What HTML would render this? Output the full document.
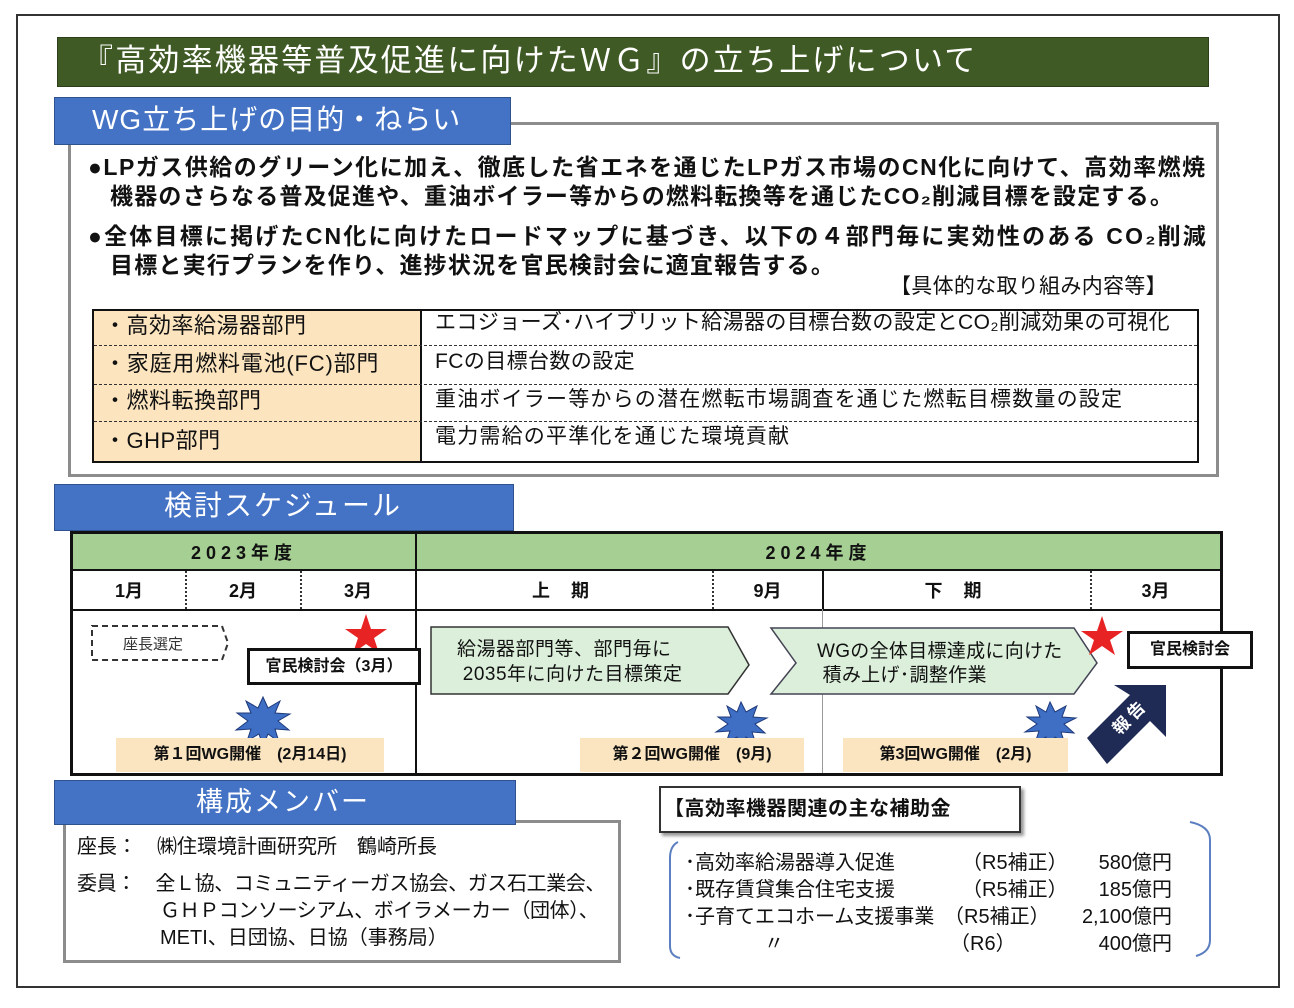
<!DOCTYPE html>
<html><head><meta charset="utf-8">
<style>
*{margin:0;padding:0;box-sizing:border-box}
body{width:1294px;height:1008px;background:#fff;position:relative;overflow:hidden;font-family:"Liberation Sans","Noto Sans CJK JP",sans-serif;color:#111}
.a{position:absolute;white-space:nowrap}
.b{font-weight:bold}
.tab{position:absolute;background:#4472c4;border:1px solid #2f528f;color:#fff}
.cell{position:absolute;display:flex;align-items:center;justify-content:center;font-weight:bold;font-size:18px}
</style></head><body>
<div class="a" style="left:16px;top:14px;width:1264px;height:974px;border:2px solid #333"></div>

<!-- title -->
<div class="a" style="left:57px;top:37px;width:1152px;height:50px;background:#3f5a25;border:1px solid #2c3f1a"></div>
<div class="a" style="left:82px;top:38px;font-size:31px;color:#fff;line-height:46px;letter-spacing:2.2px">『高効率機器等普及促進に向けたＷＧ』の立ち上げについて</div>

<!-- purpose -->
<div class="a" style="left:68px;top:122px;width:1151px;height:355px;border:3px solid #8c8c8c"></div>
<div class="tab" style="left:54px;top:97px;width:457px;height:48px"></div>
<div class="a" style="left:92px;top:99px;font-size:28px;color:#fff;line-height:42px;letter-spacing:1px">WG立ち上げの目的・ねらい</div>

<div class="a b" style="left:88px;top:153px;font-size:23px;line-height:29px;letter-spacing:1.5px">●LPガス供給のグリーン化に加え、徹底した省エネを通じたLPガス市場のCN化に向けて、高効率燃焼</div>
<div class="a b" style="left:110px;top:182px;font-size:23px;line-height:29px;letter-spacing:1.2px">機器のさらなる普及促進や、重油ボイラー等からの燃料転換等を通じたCO₂削減目標を設定する。</div>
<div class="a b" style="left:88px;top:222px;font-size:23px;line-height:29px;letter-spacing:2.2px">●全体目標に掲げたCN化に向けたロードマップに基づき、以下の４部門毎に実効性のある CO₂削減</div>
<div class="a b" style="left:110px;top:251px;font-size:23px;line-height:29px;letter-spacing:1.2px">目標と実行プランを作り、進捗状況を官民検討会に適宜報告する。</div>
<div class="a" style="left:890px;top:273px;font-size:21px;line-height:28px;letter-spacing:0.3px">【具体的な取り組み内容等】</div>

<div class="a" style="left:92px;top:309px;width:1107px;height:154px;border:2px solid #111"></div>
<div class="a" style="left:94px;top:311px;width:328px;height:150px;background:#fce4bf;border-right:2px solid #111"></div>
<div class="a" style="left:94px;top:345px;width:1103px;border-top:1px dashed #333"></div>
<div class="a" style="left:94px;top:384px;width:1103px;border-top:1px dashed #333"></div>
<div class="a" style="left:94px;top:421px;width:1103px;border-top:1px dashed #333"></div>
<div class="a" style="left:104px;top:309px;font-size:22px;line-height:34px;letter-spacing:0.5px">・高効率給湯器部門</div>
<div class="a" style="left:104px;top:345px;font-size:22px;line-height:38px;letter-spacing:0.8px">・家庭用燃料電池(FC)部門</div>
<div class="a" style="left:104px;top:383px;font-size:22px;line-height:36px;letter-spacing:0.5px">・燃料転換部門</div>
<div class="a" style="left:104px;top:421px;font-size:22px;line-height:40px;letter-spacing:0.5px">・GHP部門</div>
<div class="a" style="left:435px;top:308px;font-size:21px;line-height:30px;letter-spacing:0.4px">エコジョーズ･ハイブリット給湯器の目標台数の設定とCO₂削減効果の可視化</div>
<div class="a" style="left:435px;top:346px;font-size:21px;line-height:32px;letter-spacing:0.4px">FCの目標台数の設定</div>
<div class="a" style="left:435px;top:385px;font-size:21px;line-height:30px;letter-spacing:1.2px">重油ボイラー等からの潜在燃転市場調査を通じた燃転目標数量の設定</div>
<div class="a" style="left:435px;top:422px;font-size:21px;line-height:30px;letter-spacing:1.2px">電力需給の平準化を通じた環境貢献</div>

<!-- schedule -->
<div class="tab" style="left:54px;top:484px;width:460px;height:47px"></div>
<div class="a" style="left:164px;top:485px;font-size:28px;color:#fff;line-height:42px;letter-spacing:2px">検討スケジュール</div>

<div class="a" style="left:70px;top:531px;width:1153px;height:245px;border:3px solid #111"></div>
<div class="a" style="left:73px;top:534px;width:1147px;height:37px;background:#a6cf93;border-bottom:2px solid #111"></div>
<div class="a" style="left:73px;top:609px;width:1147px;border-top:2px solid #111"></div>
<div class="a" style="left:415px;top:534px;height:239px;border-left:2px solid #111"></div>
<div class="a" style="left:822px;top:571px;height:38px;border-left:2px solid #111"></div>
<div class="a" style="left:822px;top:609px;height:164px;border-left:1px solid #999"></div>
<div class="a" style="left:185px;top:571px;height:38px;border-left:2px dotted #333"></div>
<div class="a" style="left:300px;top:571px;height:38px;border-left:2px dotted #333"></div>
<div class="a" style="left:712px;top:571px;height:38px;border-left:2px dotted #333"></div>
<div class="a" style="left:1090px;top:571px;height:38px;border-left:2px dotted #333"></div>

<div class="cell" style="left:73px;top:534px;width:342px;height:36px;letter-spacing:5px">2023年度</div>
<div class="cell" style="left:417px;top:534px;width:803px;height:36px;letter-spacing:5px">2024年度</div>
<div class="cell" style="left:73px;top:571px;width:112px;height:38px">1月</div>
<div class="cell" style="left:186px;top:571px;width:114px;height:38px">2月</div>
<div class="cell" style="left:301px;top:571px;width:114px;height:38px">3月</div>
<div class="cell" style="left:417px;top:571px;width:295px;height:38px;letter-spacing:8px">上 期</div>
<div class="cell" style="left:713px;top:571px;width:109px;height:38px">9月</div>
<div class="cell" style="left:824px;top:571px;width:266px;height:38px;letter-spacing:8px">下 期</div>
<div class="cell" style="left:1091px;top:571px;width:129px;height:38px">3月</div>

<svg class="a" style="left:0;top:0" width="1294" height="1008">
  <path d="M92,626 H222 L228,643 L222,660 H92 Z" fill="none" stroke="#333" stroke-width="2" stroke-dasharray="6,4"/>
  <path d="M431,627 H728 L749,665 L728,694 H431 Z" fill="#dbefda" stroke="#333" stroke-width="1.5"/>
  <path d="M771,628 H1074 L1097,663 L1074,694 H771 L796,663 Z" fill="#dbefda" stroke="#445" stroke-width="1.5"/>
  <polygon points="366,614 371,629 387,629 374,638 379,653 366,644 353,653 358,638 345,629 361,629" fill="#e82323"/>
  <polygon points="1102,616 1107,631 1123,631 1110,640 1115,655 1102,646 1089,655 1094,640 1081,631 1097,631" fill="#e82323"/>
  <g fill="#3e6fc4" stroke="#1f3a7a" stroke-width="1">
    <polygon points="263,697 268,708 280,701 275,713 290,714 278,721 289,730 275,729 279,742 268,734 263,746 259,734 247,741 251,729 236,730 248,721 237,713 251,713 246,701 258,708"/>
    <polygon points="741,702 746,712 757,706 753,717 767,718 755,724 765,733 752,732 756,744 746,737 741,748 737,737 726,743 730,731 716,732 728,724 718,717 731,717 727,706 737,712"/>
    <polygon points="1050,702 1055,712 1066,706 1062,717 1076,718 1064,724 1074,733 1061,732 1065,744 1055,737 1050,748 1046,737 1035,743 1039,731 1025,732 1037,724 1027,717 1040,717 1036,706 1046,712"/>
  </g>
  <polygon points="1087,738 1130,695 1114,685 1166,685 1166,737 1150,721 1107,764" fill="#1f2a55"/>
</svg>
<div class="a" style="left:123px;top:633px;font-size:15px;color:#333">座長選定</div>
<div class="a b" style="left:247px;top:648px;width:174px;height:37px;border:3px solid #111;background:#fff;font-size:16px;line-height:31px;text-align:center">官民検討会（3月）</div>
<div class="a" style="left:457px;top:637px;font-size:19px;line-height:25px;letter-spacing:0.5px">給湯器部門等、部門毎に<br>&nbsp;2035年に向けた目標策定</div>
<div class="a" style="left:817px;top:640px;font-size:19px;line-height:24px;letter-spacing:0.3px">WGの全体目標達成に向けた<br>&nbsp;積み上げ･調整作業</div>
<div class="a b" style="left:1127px;top:631px;width:126px;height:38px;border:3px solid #111;background:#fff;font-size:16px;line-height:32px;text-align:center">官民検討会</div>
<div class="a b" style="left:1108px;top:703px;font-size:17px;color:#fff;transform:rotate(-45deg);letter-spacing:4px">報告</div>

<div class="a b" style="left:116px;top:738px;width:268px;height:34px;background:#fbe5c0;font-size:16px;line-height:34px;text-align:center">第１回WG開催　(2月14日)</div>
<div class="a b" style="left:580px;top:738px;width:224px;height:34px;background:#fbe5c0;font-size:16px;line-height:34px;text-align:center">第２回WG開催　(9月)</div>
<div class="a b" style="left:843px;top:738px;width:225px;height:34px;background:#fbe5c0;font-size:16px;line-height:34px;text-align:center">第3回WG開催　(2月)</div>

<!-- members -->
<div class="a" style="left:63px;top:820px;width:558px;height:143px;border:3px solid #8c8c8c"></div>
<div class="tab" style="left:54px;top:780px;width:462px;height:45px"></div>
<div class="a" style="left:196px;top:782px;font-size:27px;color:#fff;line-height:40px;letter-spacing:2px">構成メンバー</div>
<div class="a" style="left:77px;top:833px;font-size:20px;line-height:28px">座長：　㈱住環境計画研究所　鶴崎所長</div>
<div class="a" style="left:77px;top:871px;font-size:20px;line-height:27px;letter-spacing:-0.4px">委員：　全Ｌ協、コミュニティーガス協会、ガス石工業会、</div>
<div class="a" style="left:160px;top:898px;font-size:20px;line-height:27px;letter-spacing:-0.4px">ＧＨＰコンソーシアム、ボイラメーカー（団体）、</div>
<div class="a" style="left:160px;top:925px;font-size:20px;line-height:27px">METI、日団協、日協（事務局）</div>

<!-- subsidy -->
<svg class="a" style="left:0;top:0" width="1294" height="1008">
  <path d="M678,842 Q670,846 670,858 V946 Q670,956 680,958" fill="none" stroke="#5b7fc0" stroke-width="2"/>
  <path d="M1190,822 Q1210,826 1210,840 V940 Q1210,952 1196,956" fill="none" stroke="#5b7fc0" stroke-width="2"/>
</svg>
<div class="a" style="left:659px;top:786px;width:362px;height:47px;border:2px solid #333;box-shadow:3px 3px 3px #999;background:#fff"></div>
<div class="a b" style="left:664px;top:794px;font-size:20px;line-height:30px;letter-spacing:0.5px">【高効率機器関連の主な補助金</div>
<div class="a" style="left:685px;top:850px;font-size:20px;line-height:27px">･高効率給湯器導入促進</div>
<div class="a" style="left:685px;top:877px;font-size:20px;line-height:27px">･既存賃貸集合住宅支援</div>
<div class="a" style="left:685px;top:904px;font-size:20px;line-height:27px">･子育てエコホーム支援事業</div>
<div class="a" style="left:764px;top:931px;font-size:20px;line-height:27px">〃</div>
<div class="a" style="left:962px;top:850px;font-size:20px;line-height:27px">（R5補正）</div>
<div class="a" style="left:962px;top:877px;font-size:20px;line-height:27px">（R5補正）</div>
<div class="a" style="left:944px;top:904px;font-size:20px;line-height:27px">（R5補正）</div>
<div class="a" style="left:950px;top:931px;font-size:20px;line-height:27px">（R6）</div>
<div class="a" style="left:1172px;top:850px;font-size:20px;line-height:27px;transform:translateX(-100%)">580億円</div>
<div class="a" style="left:1172px;top:877px;font-size:20px;line-height:27px;transform:translateX(-100%)">185億円</div>
<div class="a" style="left:1172px;top:904px;font-size:20px;line-height:27px;transform:translateX(-100%)">2,100億円</div>
<div class="a" style="left:1172px;top:931px;font-size:20px;line-height:27px;transform:translateX(-100%)">400億円</div>
</body></html>
